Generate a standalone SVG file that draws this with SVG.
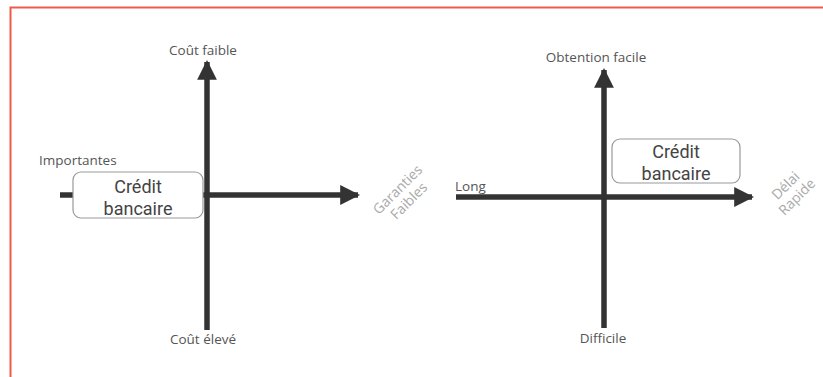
<svg xmlns="http://www.w3.org/2000/svg" width="823" height="377" viewBox="0 0 823 377">
<defs>
<marker id="ah" viewBox="0 0 10 10" refX="9" refY="5" markerWidth="3.6" markerHeight="3.6" markerUnits="strokeWidth" orient="auto">
<path d="M0,0 L10,5 L0,10 Z" fill="#333"/>
</marker>
<style>
.ax{stroke:#333;stroke-width:5.5;fill:none}
.lbl{font-family:"Open Sans","Liberation Sans",sans-serif;font-size:13.5px;fill:#555}
.diag{font-family:"Open Sans","Liberation Sans",sans-serif;font-size:14px;fill:#aaa}
.box{fill:#fff;stroke:#999;stroke-width:1.2}
.bt{font-family:Roboto,"Liberation Sans",sans-serif;font-size:18px;fill:#444;text-anchor:middle}
</style>
</defs>
<rect width="823" height="377" fill="#fff"/>
<path d="M10.5,377 V7.5 H823" fill="none" stroke="#f05a4a" stroke-width="2"/>
<g id="connectors">
<line class="ax" x1="207" y1="330" x2="207" y2="62" marker-end="url(#ah)"/>
<line class="ax" x1="60" y1="195" x2="358" y2="195" marker-end="url(#ah)"/>
<line class="ax" x1="604" y1="328" x2="604" y2="70" marker-end="url(#ah)"/>
<line class="ax" x1="456" y1="197" x2="752" y2="197" marker-end="url(#ah)"/>
</g>
<g id="node-credit-left">
<rect class="box" x="73" y="172" width="130" height="46" rx="8"/>
<text class="bt" x="138" y="193">Crédit</text>
<text class="bt" x="138" y="215">bancaire</text>
</g>
<g id="node-credit-right">
<rect class="box" x="612" y="139" width="128" height="44" rx="8"/>
<text class="bt" x="676" y="158">Crédit</text>
<text class="bt" x="676" y="180">bancaire</text>
</g>
<g id="labels">
<text class="lbl" x="203" y="55" text-anchor="middle">Coût faible</text>
<text class="lbl" x="203" y="344" text-anchor="middle">Coût élevé</text>
<text class="lbl" x="39" y="165">Importantes</text>
<text class="lbl" x="596" y="62" text-anchor="middle">Obtention facile</text>
<text class="lbl" x="603" y="343" text-anchor="middle">Difficile</text>
<text class="lbl" x="455" y="191">Long</text>
<text class="diag" transform="translate(401,193) rotate(-45)" text-anchor="middle"><tspan x="0" y="0">Garanties</tspan><tspan x="0" y="16">Faibles</tspan></text>
<text class="diag" transform="translate(789,189) rotate(-45)" text-anchor="middle"><tspan x="0" y="0">Délai</tspan><tspan x="0" y="16">Rapide</tspan></text>
</g>
</svg>
